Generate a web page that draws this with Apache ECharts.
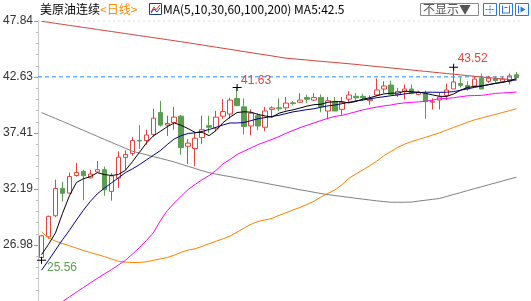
<!DOCTYPE html>
<html><head><meta charset="utf-8">
<script src="https://cdn.jsdelivr.net/npm/echarts@6/dist/echarts.min.js"></script>
<style>html,body{margin:0;padding:0;background:#fff}#c{width:531px;height:301px}</style>
</head><body><div id="c"></div>
<script>
const categories = [1,2,3,4,5,6,7,8,9,10,11,12,13,14,15,16,17,18,19,20,21,22,23,24,25,26,27,28,29,30,31,32,33,34,35,36,37,38,39,40,41,42,43,44,45,46,47,48,49,50,51,52,53,54,55,56,57,58,59,60,61,62,63,64,65,66,67,68,69];
const openV = [25.82,27.74,29.70,32.25,31.81,33.45,33.84,33.23,33.78,33.99,
31.97,33.21,35.13,35.50,36.72,36.70,37.27,39.31,38.14,38.38,
38.97,36.17,35.96,36.98,38.09,37.86,38.97,39.17,40.62,39.84,
38.06,39.02,37.94,39.60,39.75,39.75,40.21,40.27,40.71,40.47,
40.71,39.45,40.33,39.60,40.56,40.82,40.82,40.41,40.95,41.50,
41.87,40.97,41.29,41.50,41.00,41.06,40.27,40.47,40.91,41.50,
42.02,41.84,41.78,42.51,42.22,42.46,42.16,42.22,42.83];
const closeV = [27.83,29.65,32.25,31.79,33.35,33.73,33.43,33.58,33.99,32.12,
33.41,35.15,35.41,36.70,36.66,37.22,38.79,38.14,38.29,38.88,
36.05,36.46,36.92,37.71,37.94,38.88,39.40,40.47,39.95,38.01,
39.25,38.06,39.45,39.75,39.66,40.19,40.15,40.47,40.54,40.71,
39.86,40.41,39.45,40.26,40.94,40.68,40.68,40.53,41.41,41.78,
41.00,41.26,41.50,41.11,41.20,40.33,40.36,40.76,41.41,42.16,
41.84,41.50,42.42,41.50,42.51,42.28,42.42,42.72,42.57];
const lowV = [25.56,27.56,29.57,31.02,31.75,33.35,31.14,33.19,33.76,31.57,
31.11,32.29,33.93,35.28,35.91,36.31,37.07,38.00,37.13,37.71,
35.39,34.51,34.31,36.40,37.42,37.57,38.73,38.73,39.91,37.27,
37.18,37.66,37.57,38.88,39.45,39.52,39.98,40.19,40.19,40.39,
39.34,38.67,39.45,39.10,40.19,40.33,40.41,40.04,40.82,41.11,
40.91,40.76,40.53,41.00,40.91,38.73,39.60,39.60,40.47,41.50,
41.64,41.35,41.64,41.50,42.07,42.07,42.05,41.93,42.51];
const highV = [27.89,29.71,33.06,32.86,33.73,34.63,33.99,33.99,34.80,34.28,
33.67,35.70,35.79,37.01,38.14,37.71,39.66,40.39,39.02,39.84,
39.08,36.84,37.42,39.02,39.02,39.45,40.56,40.68,41.63,40.62,
39.60,39.23,39.84,39.89,40.62,40.76,40.39,41.11,40.97,41.11,
41.00,40.76,40.76,40.76,41.29,41.11,41.06,40.91,42.48,42.22,
42.28,41.58,41.93,41.93,41.35,41.35,40.62,41.20,42.02,43.52,
42.60,42.22,42.66,42.94,42.72,42.66,42.66,42.94,43.09];
const ma5 = [26.08,27.04,28.11,29.92,31.57,32.80,33.15,33.35,33.71,33.54,
33.45,33.54,33.93,34.72,35.59,36.46,37.13,37.55,37.99,38.34,
38.12,37.81,37.46,37.46,37.16,37.64,38.38,38.88,39.31,39.38,
39.34,39.14,38.99,38.88,39.25,39.43,39.56,39.73,39.91,40.04,
40.08,40.26,40.33,40.32,40.21,40.34,40.56,40.69,40.87,41.04,
41.11,41.11,41.30,41.24,41.20,41.09,40.95,40.82,40.81,41.04,
41.39,41.65,41.74,41.78,41.91,42.03,42.13,42.26,42.48];
const ma10 = [24.64,25.55,26.51,27.47,28.35,29.31,30.22,31.05,31.75,32.27,
32.75,33.23,33.71,34.06,34.45,34.89,35.33,35.76,36.33,36.85,
37.16,37.36,37.42,37.55,37.73,37.94,38.16,38.34,38.34,38.38,
38.56,38.73,38.84,38.95,39.05,39.21,39.37,39.47,39.58,39.66,
39.80,39.93,40.01,40.13,40.26,40.39,40.47,40.59,40.69,40.78,
40.87,40.95,41.04,41.13,41.17,41.20,41.20,41.19,41.20,41.26,
41.39,41.52,41.65,41.78,41.90,42.02,42.13,42.25,42.37];
const ma30 = [20.40,20.84,21.28,21.71,22.15,22.59,23.02,23.46,23.87,24.29,
24.68,25.12,25.55,26.12,26.73,27.39,28.11,29.22,30.18,30.88,
31.53,32.14,32.62,33.06,33.45,33.93,34.54,34.95,35.41,35.72,
36.02,36.33,36.57,36.81,37.07,37.38,37.64,37.90,38.12,38.34,
38.56,38.77,38.95,39.05,39.21,39.38,39.56,39.69,39.82,39.93,
40.01,40.13,40.21,40.26,40.30,40.36,40.47,40.61,40.62,40.69,
40.78,40.87,40.89,40.91,41.00,41.09,41.13,41.17,41.22];
const ma60 = [28.20,27.65,27.34,27.12,26.91,26.69,26.47,26.28,26.09,25.90,
25.68,25.47,25.38,25.35,25.35,25.42,25.55,25.68,25.82,26.03,
26.30,26.51,26.63,26.86,27.10,27.34,27.56,27.82,28.17,28.56,
28.91,29.17,29.31,29.46,29.74,29.98,30.24,30.47,30.75,31.05,
31.44,31.79,32.10,32.58,33.19,33.58,33.97,34.37,34.80,35.28,
35.68,36.07,36.37,36.61,36.81,37.01,37.22,37.42,37.68,37.93,
38.16,38.41,38.63,38.80,38.97,39.14,39.31,39.49,39.66];
const ma100 = [39.31,39.03,38.76,38.49,38.21,37.93,37.65,37.37,37.09,36.81,
36.54,36.26,35.98,35.71,35.54,35.38,35.21,35.05,34.88,34.71,
34.50,34.30,34.10,33.89,33.71,33.58,33.45,33.35,33.22,33.10,
32.98,32.86,32.74,32.61,32.49,32.37,32.25,32.12,32.01,31.89,
31.77,31.67,31.58,31.50,31.42,31.33,31.25,31.17,31.09,31.02,
30.96,30.96,30.96,30.98,31.07,31.15,31.23,31.31,31.50,31.68,
31.86,32.05,32.23,32.40,32.59,32.76,32.94,33.12,33.29];
const ma200 = [47.80,47.71,47.61,47.52,47.42,47.33,47.23,47.14,47.04,46.95,
46.85,46.76,46.66,46.57,46.47,46.38,46.28,46.19,46.09,46.00,
45.90,45.80,45.70,45.60,45.49,45.39,45.29,45.19,45.09,44.98,
44.88,44.78,44.68,44.58,44.47,44.37,44.31,44.25,44.20,44.14,
44.08,44.02,43.97,43.91,43.85,43.79,43.72,43.66,43.59,43.53,
43.46,43.40,43.33,43.27,43.20,43.14,43.07,43.01,42.94,42.88,
42.81,42.75,42.68,42.62,42.56,42.50,42.44,42.38,42.32];
const tickLabels = [26.98, 32.19, 37.41, 42.63, 47.84];
const priceLine = 42.63;
const topLine = 47.84;
const refEnds = ['left', 'right'];
const annoIdx = [28, 59, 0];
const annoVal = [41.63, 43.52, 25.56];
const titleName = '美原油连续';
const titlePeriod = '<日线>';
const titleMA = 'MA(5,10,30,60,100,200) MA5:42.5';
const selectText = '不显示▼';

const RED = '#e2453c', GREEN = '#5b9e4f', BLUE = '#1e90ff';
const FONT = '"Noto Sans CJK SC","Noto Sans",sans-serif';
const NUMFONT = '"Liberation Sans",Arial,sans-serif';

const kData = categories.map((c, i) => [openV[i], closeV[i], lowV[i], highV[i]]);
const annoOffsets = [[19, -7], [19, -8.5], [20.5, 7.5]];
const annoColors = [RED, RED, GREEN];

const chart = echarts.init(document.getElementById('c'), null, {renderer: 'canvas'});
function maSeries(name, data, color, z) {
  return {name, type: 'line', data, symbol: 'none', silent: true, z,
    lineStyle: {color, width: 1}, itemStyle: {color}, animation: false};
}
function refLine(name, value, color, dash) {
  return {name, type: 'line', xAxisIndex: 1, data: refEnds.map(() => value), symbol: 'none',
    silent: true, z: 1, itemStyle: {color}, lineStyle: {color, type: dash, width: 1}};
}
const hiddenAxis = {axisLine: {show: false}, axisTick: {show: false}, axisLabel: {show: false}, splitLine: {show: false}};
chart.setOption({
  animation: false,
  backgroundColor: '#fff',
  grid: {left: 37, right: 11, top: 21, bottom: -18.7, containLabel: false},
  xAxis: [
    Object.assign({type: 'category', data: categories, boundaryGap: true}, hiddenAxis),
    Object.assign({type: 'category', data: refEnds, boundaryGap: false, position: 'top'}, hiddenAxis)
  ],
  yAxis: {type: 'value', min: 21.7675, max: 47.83, interval: 5.2125, scale: true,
    axisLine: {show: true, lineStyle: {color: '#c8c8c8'}},
    axisTick: {show: true, length: 4, lineStyle: {color: '#999'}},
    minorTick: {show: true, splitNumber: 5, length: 2, lineStyle: {color: '#bbb'}},
    splitLine: {show: false},
    axisLabel: {color: '#333', fontSize: 12, fontFamily: NUMFONT, margin: 5,
      showMinLabel: true, showMaxLabel: true,
      formatter: v => {
        const hit = tickLabels.find(t => Math.abs(t - v) < 0.03);
        return hit === undefined ? '' : hit.toFixed(2);
      }}},
  series: [
    refLine('price', priceLine, BLUE, [4, 3]),
    refLine('top', topLine, '#d0d0d0', [2, 3]),
    {name: 'K', type: 'candlestick', data: kData, barWidth: 5, z: 2,
      itemStyle: {color: 'rgba(255,255,255,0)', color0: GREEN, borderColor: RED, borderColor0: GREEN, borderWidth: 1},
      markPoint: {silent: true, animation: false,
        symbol: 'path://M0,3h9v1h-9z M4,0h1v7h-1z', symbolSize: [9, 7],
        itemStyle: {color: '#000'},
        data: annoIdx.map((ix, k) => ({coord: [ix, annoVal[k]], value: annoVal[k],
          label: {show: true, position: 'inside', offset: annoOffsets[k], color: annoColors[k],
            fontSize: 12, fontFamily: NUMFONT, formatter: p => p.value.toFixed(2)}}))}
    },
    maSeries('MA200', ma200, '#d4433b', 3),
    maSeries('MA100', ma100, '#808080', 3),
    maSeries('MA60', ma60, '#ff8000', 3),
    maSeries('MA30', ma30, '#ff00ff', 3),
    maSeries('MA10', ma10, '#000090', 4),
    maSeries('MA5', ma5, '#000000', 5)
  ],
  graphic: [
    {type: 'text', x: 40, y: 9, style: {text: titleName, fill: '#000', font: '12px ' + FONT, verticalAlign: 'middle'}},
    {type: 'text', x: 100, y: 9, style: {text: titlePeriod, fill: '#ff8a00', font: '12px ' + FONT, verticalAlign: 'middle'}},
    {type: 'group', x: 149, y: 3, children: [
      {type: 'rect', shape: {x: 0.5, y: 0.5, width: 12, height: 11}, style: {fill: '#fff', stroke: '#1a3a8a', lineWidth: 1}},
      {type: 'polyline', shape: {points: [[2, 9], [5, 4], [7, 7], [11, 2]]}, style: {stroke: '#e03030', fill: null, lineWidth: 1}},
      {type: 'polyline', shape: {points: [[2, 10], [5, 6], [8, 9], [11, 5]]}, style: {stroke: '#2040c0', fill: null, lineWidth: 1}}
    ]},
    {type: 'text', x: 163, y: 9, style: {text: titleMA, fill: '#000', font: '12px ' + FONT, verticalAlign: 'middle'}},
    {type: 'rect', shape: {x: 420.5, y: 3.5, width: 58, height: 12}, style: {fill: '#fff', stroke: '#8a8a8a', lineWidth: 1}},
    {type: 'text', x: 423, y: 9.5, style: {text: selectText, fill: '#555', font: '12px ' + FONT, verticalAlign: 'middle'}},
    {type: 'group', x: 483.5, y: 3.5, children: [
      {type: 'rect', shape: {x: 0, y: 0, width: 13, height: 12}, style: {fill: '#fff', stroke: '#2a7ad8', lineWidth: 1}},
      {type: 'line', shape: {x1: 6.5, y1: 2, x2: 6.5, y2: 10}, style: {stroke: '#2a7ad8', lineDash: [2, 1]}},
      {type: 'line', shape: {x1: 2, y1: 6, x2: 11, y2: 6}, style: {stroke: '#2a7ad8', lineDash: [2, 1]}}
    ]},
    {type: 'group', x: 499.5, y: 3.5, children: [
      {type: 'rect', shape: {x: 0, y: 0, width: 13, height: 12}, style: {fill: '#fff', stroke: '#2a7ad8', lineWidth: 1}},
      {type: 'line', shape: {x1: 3, y1: 2, x2: 3, y2: 10}, style: {stroke: '#2a7ad8'}},
      {type: 'line', shape: {x1: 10, y1: 2, x2: 10, y2: 10}, style: {stroke: '#2a7ad8'}},
      {type: 'line', shape: {x1: 3, y1: 9.5, x2: 10, y2: 9.5}, style: {stroke: '#2a7ad8'}},
      {type: 'line', shape: {x1: 5, y1: 4, x2: 8, y2: 4}, style: {stroke: '#2a7ad8'}}
    ]},
    {type: 'group', x: 515.5, y: 3.5, children: [
      {type: 'rect', shape: {x: 0, y: 0, width: 13, height: 12}, style: {fill: '#fff', stroke: '#2a7ad8', lineWidth: 1}},
      {type: 'line', shape: {x1: 3, y1: 2, x2: 3, y2: 10}, style: {stroke: '#2a7ad8'}},
      {type: 'polygon', shape: {points: [[5, 3], [10, 6], [5, 9]]}, style: {fill: '#2a7ad8'}}
    ]}
  ]
});
</script></body></html>
